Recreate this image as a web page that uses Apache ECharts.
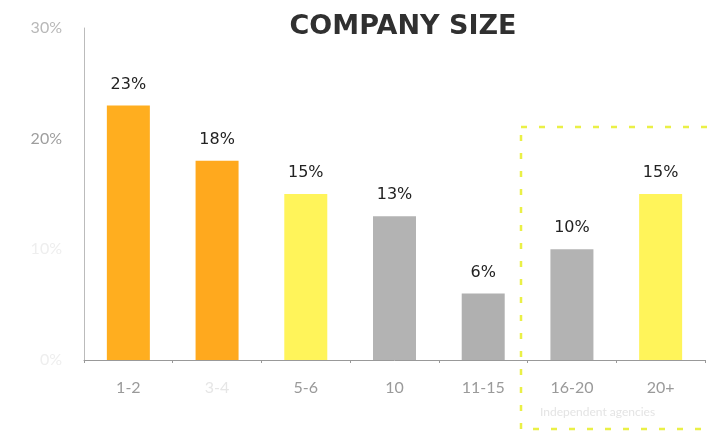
<!DOCTYPE html>
<html>
<head>
<meta charset="utf-8">
<script src="https://cdn.jsdelivr.net/npm/echarts@6/dist/echarts.min.js"></script>
<style>
  html, body {margin: 0; padding: 0; background: #fff;}
  #main {width: 709px; height: 432px;}
</style>
</head>
<body>
<div id="main"></div>
<script>
const categories = ['1-2', '3-4', '5-6', '10', '11-15', '16-20', '20+'];
const shares = [23, 18, 15, 13, 6, 10, 15];
const barColors = ['#FFAE1F', '#FFA91E', '#FFF45A', '#B3B3B3', '#B0B0B0', '#B3B3B3', '#FFF45A'];
const yTicks = [0, 10, 20, 30];

const chart = echarts.init(document.getElementById('main'));

const option = {
    backgroundColor: '#fff',
    animation: false,
    title: {
        text: 'COMPANY SIZE',
        left: 398,
        textAlign: 'center',
        top: 8,
        textStyle: {
            color: '#303030',
            fontSize: 27,
            fontWeight: 'bold',
            fontFamily: 'DejaVu Sans'
        }
    },
    grid: {
        left: 84,
        right: 4,
        top: 28,
        bottom: 72
    },
    xAxis: {
        type: 'category',
        data: categories,
        axisLine: {lineStyle: {color: '#999', width: 1}},
        axisTick: {show: true, alignWithLabel: false, length: 3, lineStyle: {color: '#999'}},
        axisLabel: {
            interval: 0,
            color: '#9a9a9a',
            fontSize: 16,
            margin: 20,
            fontFamily: 'Lato',
            formatter: function (v, i) {
                return i === 1 ? '{faint|' + v + '}' : v;
            },
            rich: {
                faint: {color: '#e6e6e6', fontSize: 16, fontFamily: 'Lato'}
            }
        }
    },
    yAxis: {
        type: 'value',
        min: 0,
        max: 30,
        interval: 10,
        axisLine: {show: true, lineStyle: {color: '#bbb', width: 1}},
        axisTick: {show: false},
        splitLine: {show: false},
        axisLabel: {
            fontSize: 16,
            margin: 22,
            fontFamily: 'Lato',
            formatter: function (v) {
                if (v === 30) return '{a|' + v + '%}';
                if (v === 20) return '{b|' + v + '%}';
                return '{c|' + v + '%}';
            },
            rich: {
                a: {color: '#b8b8b8', fontSize: 16, fontFamily: 'Lato'},
                b: {color: '#9e9e9e', fontSize: 16, fontFamily: 'Lato'},
                c: {color: '#eeeeee', fontSize: 16, fontFamily: 'Lato'}
            }
        }
    },
    series: [{
        type: 'bar',
        barWidth: 43,
        data: shares.map(function (v, i) {
            return {value: v, itemStyle: {color: barColors[i]}};
        }),
        label: {
            show: true,
            position: 'top',
            distance: 13,
            color: '#222',
            fontSize: 16,
            fontFamily: 'DejaVu Sans',
            formatter: '{c}%'
        }
    }],
    graphic: [
        {
            type: 'rect',
            shape: {x: 521, y: 127, width: 200, height: 302},
            style: {fill: 'none', stroke: '#EAF046', lineWidth: 2.5, lineDash: [6, 12]}
        },
        {
            type: 'text',
            left: 540,
            top: 406,
            style: {text: 'Independent agencies', fill: '#e4e4e4', fontSize: 12, fontFamily: 'Lato'}
        }
    ]
};

chart.setOption(option);
</script>
</body>
</html>
